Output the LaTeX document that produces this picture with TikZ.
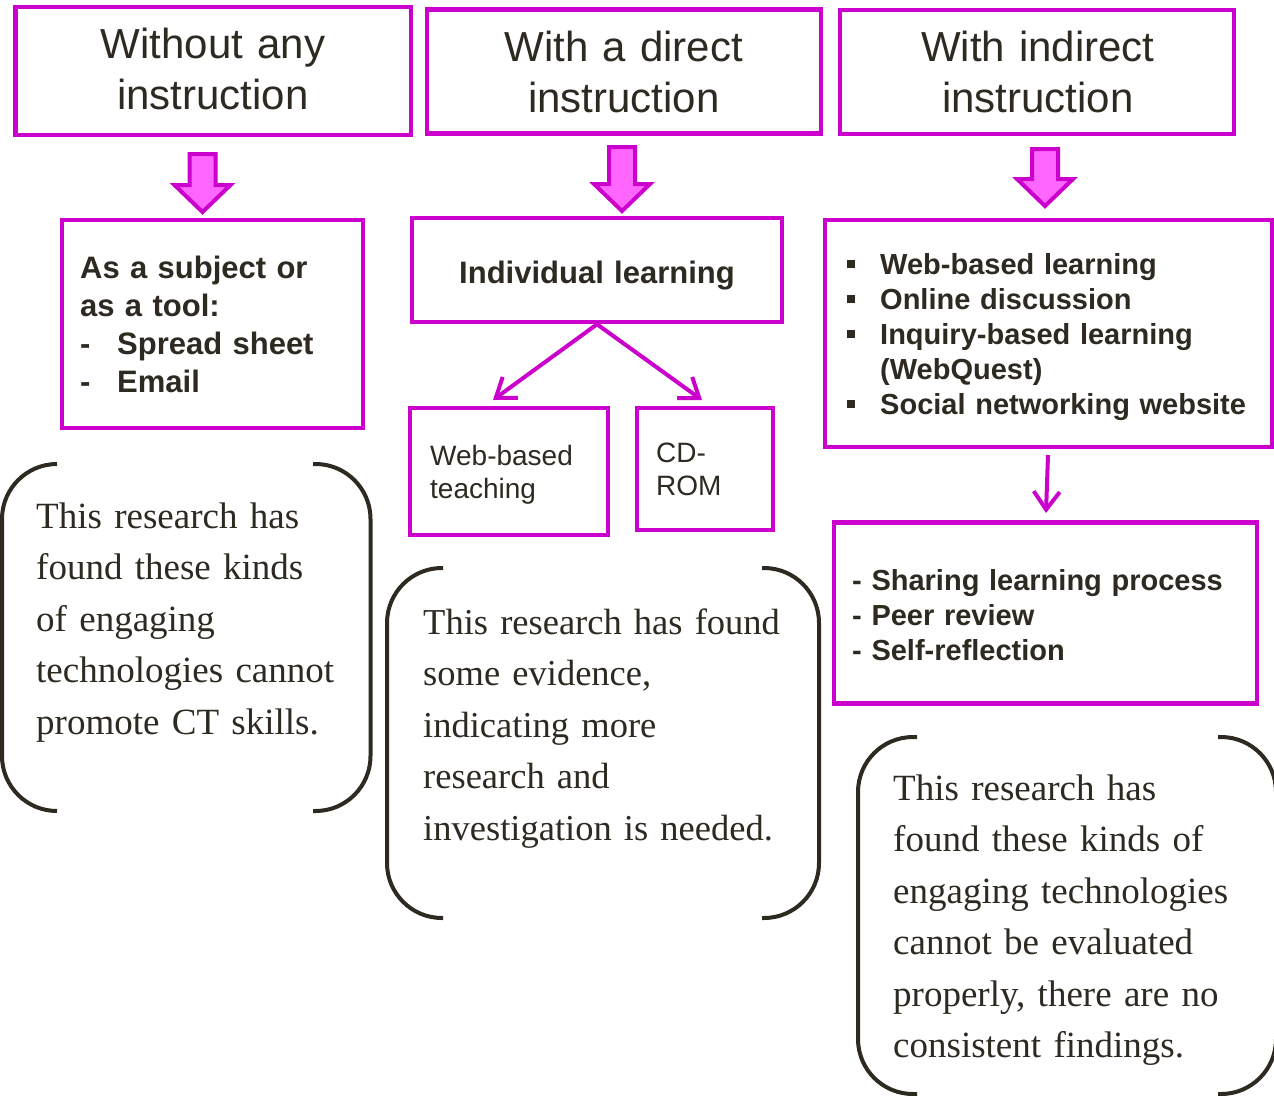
\documentclass[tikz,border=0pt]{standalone}
\usepackage{fontspec}
\setmainfont{Liberation Serif}
\newfontfamily\arialfont{Liberation Sans}
\usetikzlibrary{arrows.meta}
\definecolor{mag}{HTML}{CC00CC}
\definecolor{pinkfill}{HTML}{FF66FF}
\definecolor{ink}{HTML}{2E2A21}
\newcommand\blockarr[3]{%
  \filldraw[draw=mag, fill=pinkfill, line width=4pt, line join=miter]
    (#1-13,#2) -- (#1+13,#2) -- (#1+13,#3-27) -- (#1+28,#3-27) -- (#1,#3)
    -- (#1-28,#3-27) -- (#1-13,#3-27) -- cycle;}
\newcommand\sqbullet[1]{\fill[ink] (847,#1-14) rectangle (855,#1-6);}
\tikzset{
  magbox/.style={draw=mag, line width=4.5pt, inner sep=0pt},
  titletext/.style={font=\arialfont\fontsize{42}{51}\selectfont, text=ink, align=center, text width=390pt, anchor=base, inner sep=0pt},
  boldtext/.style={font=\arialfont\bfseries\fontsize{31}{38}\selectfont, text=ink, align=left, text width=330pt, anchor=base west, inner sep=0pt},
  listtext/.style={font=\arialfont\bfseries\fontsize{29}{35}\selectfont, text=ink, align=left, text width=420pt, anchor=base west, inner sep=0pt},
  smalltext/.style={font=\arialfont\fontsize{28}{33.5}\selectfont, text=ink, align=left, text width=200pt, anchor=base west, inner sep=0pt},
  serieftext/.style={font=\fontsize{37}{51.5}\selectfont, text=ink, align=left, text width=420pt, anchor=base west, inner sep=0pt},
  bracketline/.style={draw=ink, line width=4pt, rounded corners=55pt},
  thinarr/.style={draw=mag, line width=4pt, -{Straight Barb[length=18pt,width=26pt]}},
}
\begin{document}
\begin{tikzpicture}[x=1pt,y=-1pt]
\useasboundingbox (0,0) rectangle (1274,1095);
\fill[white] (0,0) rectangle (1274,1095);

% title boxes
\node[magbox, minimum width=395.5pt, minimum height=128pt] (t1) at (213.25,71) {};
\node[magbox, minimum width=394pt, minimum height=124pt] (t2) at (624,71.5) {};
\node[magbox, minimum width=394pt, minimum height=124pt] (t3) at (1037,72) {};
\node[titletext] (t1txt) at (213,58) {Without any\\instruction};
\node[titletext] (t2txt) at (624,61) {With a direct\\instruction};
\node[titletext] (t3txt) at (1038,61) {With indirect\\instruction};

% block arrows
\blockarr{202.5}{154}{212}
\blockarr{622}{147}{211}
\blockarr{1045}{149}{206}

% second row
\node[magbox, minimum width=301pt, minimum height=208pt] (s1) at (212.5,324) {};
\node[boldtext] (s1txt) at (80,278) {As a subject or\\as a tool:\\\makebox[37pt][l]{-}Spread sheet\\\makebox[37pt][l]{-}Email};

\node[magbox, minimum width=370pt, minimum height=104pt] (il) at (597,270) {};
\node[boldtext, align=center, text width=370pt, anchor=base] (iltxt) at (597,283) {Individual learning};

\node[magbox, minimum width=447pt, minimum height=227pt] (r1) at (1048.5,333.5) {};
\node[listtext] (r1txt) at (880,274) {Web-based learning\\Online discussion\\Inquiry-based learning\\(WebQuest)\\Social networking website};
\sqbullet{274}
\sqbullet{309}
\sqbullet{344}
\sqbullet{414}

% third row
\node[magbox, minimum width=198pt, minimum height=127pt] (wb) at (509,471.5) {};
\node[smalltext] (wbtxt) at (430,465) {Web-based\\teaching};
\node[magbox, minimum width=136pt, minimum height=122pt] (cd) at (705,469) {};
\node[smalltext] (cdtxt) at (656,462) {CD-\\ROM};

\coordinate (wbin) at (493,400);
\coordinate (cdin) at (702,400);
\draw[thinarr] (il.south) -- (wbin);
\draw[thinarr] (il.south) -- (cdin);

\node[magbox, minimum width=423pt, minimum height=181pt] (sh) at (1045.5,613) {};
\node[listtext] (shtxt) at (852,590) {- Sharing learning process\\- Peer review\\- Self-reflection};
\coordinate (r1out) at (1048,455);
\coordinate (shin) at (1046,513);
\draw[thinarr] (r1out) -- (shin);

% brackets
\draw[bracketline] (57,464) -- (2,464) -- (2,811) -- (57,811);
\draw[bracketline] (313,464) -- (370.5,464) -- (370.5,811) -- (313,811);
\node[serieftext] (b1txt) at (36,528) {This research has\\found these kinds\\of engaging\\technologies cannot\\promote CT skills.};

\draw[bracketline] (443,568) -- (387,568) -- (387,918) -- (443,918);
\draw[bracketline] (762,568) -- (819,568) -- (819,918) -- (762,918);
\node[serieftext, font=\fontsize{36.5}{51.5}\selectfont] (b2txt) at (423,634) {This research has found\\some evidence,\\indicating more\\research and\\investigation is needed.};

\draw[bracketline] (917,737) -- (858,737) -- (858,1094) -- (917,1094);
\draw[bracketline] (1218,737) -- (1276,737) -- (1276,1094) -- (1218,1094);
\node[serieftext] (b3txt) at (893,800) {This research has\\found these kinds of\\engaging technologies\\cannot be evaluated\\properly, there are no\\consistent findings.};
\end{tikzpicture}
\end{document}
